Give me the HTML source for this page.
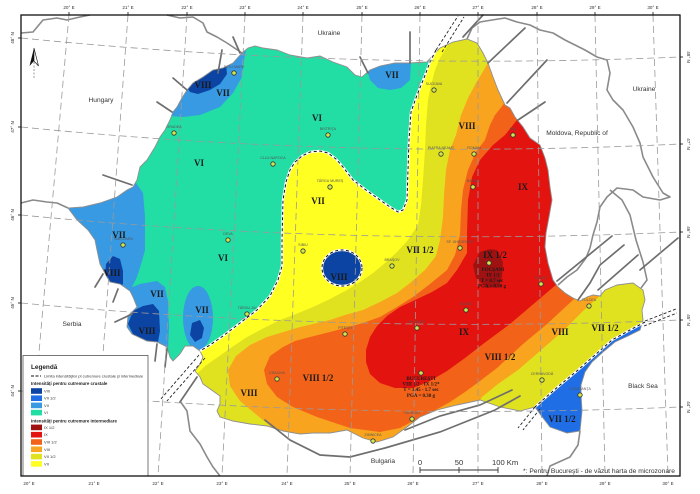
<!DOCTYPE html>
<html><head><meta charset="utf-8"><style>
html,body{margin:0;padding:0;background:#fff;}
svg{display:block;}
.rn{font-family:"Liberation Serif",serif;font-weight:bold;font-size:9px;fill:#1a1a1a;text-anchor:middle;}
.ct{font-family:"Liberation Sans",sans-serif;font-size:3.6px;fill:#555;text-anchor:middle;}
.cn{font-family:"Liberation Sans",sans-serif;font-size:6.6px;fill:#333;text-anchor:middle;}
.ax{font-family:"Liberation Sans",sans-serif;font-size:4.6px;fill:#333;text-anchor:middle;}
.lg{font-family:"Liberation Sans",sans-serif;font-size:4px;fill:#333;}
.lgb{font-family:"Liberation Sans",sans-serif;font-size:4.4px;font-weight:bold;fill:#222;}
.an{font-family:"Liberation Serif",serif;font-weight:bold;font-size:5px;fill:#1a1a1a;text-anchor:middle;}
</style></head><body>
<svg width="700" height="494" viewBox="0 0 700 494" xmlns="http://www.w3.org/2000/svg">
<defs>
<clipPath id="ro"><path id="rop" d="M242,53 L248,48 L255,46 L263,48 L277,50 L290,55 L307,58 L320,56 L333,62 L347,67 L355,75 L362,77 L370,70 L380,66 L395,63 L410,63 L427,62 L433,55 L440,48 L453,42 L467,39 L477,43 L483,53 L488,63 L493,77 L498,90 L505,105 L510,108 L515,117 L523,127 L530,138 L540,145 L545,158 L548,170 L550,187 L552,200 L549,217 L546,233 L545,247 L548,263 L553,280 L558,287 L565,293 L573,298 L580,301 L587,297 L593,295 L600,296 L605,290 L617,285 L633,283 L643,290 L645,300 L642,310 L643,320 L640,330 L628,336 L615,342 L603,352 L592,362 L585,372 L581,385 L581,394 L582,411 L580,431 L567,433 L550,427 L540,414 L535,407 L520,411 L500,407 L480,400 L457,405 L437,410 L420,417 L407,427 L393,437 L377,442 L363,438 L347,430 L330,433 L313,433 L300,434 L283,431 L267,426 L250,424 L233,421 L220,417 L217,411 L220,404 L220,396 L213,391 L203,384 L200,377 L195,371 L200,364 L203,357 L200,351 L193,346 L185,346 L180,354 L173,361 L170,357 L167,347 L157,342 L147,341 L132,334 L127,327 L128,316 L137,307 L133,297 L130,291 L120,284 L110,282 L107,277 L100,264 L97,250 L95,240 L88,230 L77,220 L68,208 L83,207 L100,203 L117,197 L127,190 L133,187 L137,180 L140,167 L147,160 L155,147 L160,137 L165,130 L170,120 L173,112 L177,107 L182,98 L187,90 L193,83 L203,77 L213,70 L223,68 L233,63 Z"/></clipPath>
</defs>

<!-- Map content clipped to Romania -->
<g clip-path="url(#ro)">
  <rect x="0" y="0" width="700" height="494" fill="#FFFF22"/>
  <!-- teal VI crustal -->
  <path fill="#22DDA4" d="M0,0 L450,0 L436,50 L430,62 L424,78 L417,95 L411,112 L409,140 L408,170 L407,200 L403,210 L398,212 L390,207 L380,200 L366,190 L353,180 L343,167 L336,159 L328,153 L320,151 L310,152 L302,156 L295,162 L290,170 L286,182 L283,200 L282,240 L282,266 L278,280 L270,296 L257,310 L240,323 L223,336 L210,345 L200,351 L192,358 L160,400 L0,400 Z"/>
  <!-- olive VII 1/2 -->
  <path fill="#E1E21F" d="M472,0 L458,30 L448,45 L440,58 L435,70 L431,85 L428,100 L426,125 L425,150 L423,180 L421,205 L418,225 L408,240 L397,252 L385,263 L373,273 L360,282 L347,290 L330,299 L313,307 L296,314 L280,320 L262,329 L247,337 L232,347 L218,357 L205,366 L196,375 L190,430 L190,500 L700,500 L700,0 Z"/>
  <!-- orange VIII -->
  <path fill="#F8A41F" d="M512,0 L492,55 L485,68 L476,83 L468,98 L461,115 L456,135 L450,150 L446,170 L444,195 L443,217 L440,240 L436,256 L425,270 L410,283 L397,293 L380,302 L363,310 L345,315 L330,320 L300,327 L267,337 L250,345 L236,356 L228,370 L230,386 L240,401 L258,416 L275,430 L300,455 L420,455 L470,415 L482,397 L498,384 L518,370 L540,351 L563,331 L583,311 L603,293 L625,268 L700,200 L700,0 Z"/>
  <!-- orange-red VIII 1/2 -->
  <path fill="#F36219" d="M540,0 L520,80 L508,97 L503,105 L495,115 L490,125 L485,140 L476,152 L468,170 L463,190 L461,210 L460,235 L455,255 L447,270 L430,284 L413,297 L397,307 L380,317 L363,323 L345,328 L330,332 L310,337 L295,341 L283,347 L270,356 L264,370 L267,384 L277,397 L293,407 L317,417 L335,423 L350,428 L380,432 L400,428 L413,421 L430,413 L450,402 L465,392 L480,381 L497,368 L523,344 L547,324 L573,300 L590,285 L620,260 L700,200 L700,0 Z"/>
  <!-- red IX -->
  <path fill="#E31310" d="M560,0 L530,105 L517,120 L505,135 L493,145 L480,160 L472,177 L468,200 L467,233 L467,253 L457,270 L447,283 L432,292 L415,300 L400,307 L387,316 L377,326 L370,337 L366,350 L366,362 L370,374 L380,383 L395,388 L413,388 L430,381 L447,371 L465,358 L483,344 L510,324 L537,301 L557,284 L570,272 L700,200 L700,0 Z"/>
  <!-- dark red IX 1/2 -->
  <path fill="#A01212" d="M480,252 L490,249 L497,250 L503,262 L502,277 L499,287 L487,288 L476,278 L473,265 Z"/>

  <!-- crustal blue regions -->
  <path fill="#379AE3" d="M160,30 L250,30 L244,60 L242,77 L233,93 L220,107 L200,115 L183,117 L170,116 L150,100 Z"/>
  <path fill="#0C44A4" d="M186,86 L193,78 L203,72 L215,67 L226,64 L227,74 L220,84 L210,90 L198,94 L190,92 Z"/>
  <path fill="#379AE3" d="M362,40 L415,40 L411,62 L410,80 L401,88 L390,90 L378,88 L370,80 L366,66 Z"/>
  <path fill="#379AE3" d="M50,175 L134,180 L143,193 L145,217 L145,250 L142,261 L137,277 L130,291 L110,300 L50,300 Z"/>
  <path fill="#0C44A4" d="M113,256 L120,259 L123,271 L123,284 L118,289 L110,286 L105,277 L106,264 Z"/>
  <path fill="#379AE3" d="M125,290 L140,284 L157,281 L165,287 L168,301 L169,327 L168,350 L150,355 L115,345 L115,300 Z"/>
  <path fill="#0C44A4" d="M128,324 L133,311 L143,306 L153,304 L159,311 L160,331 L158,342 L150,346 L140,343 L133,334 Z"/>
  <ellipse cx="198" cy="318" rx="15" ry="32" fill="#379AE3"/>
  <path fill="#0C44A4" d="M192,323 L200,320 L204,328 L202,338 L195,342 L190,335 Z"/>
  <ellipse cx="342" cy="268" rx="20" ry="18" fill="#0C44A4"/>
  <path fill="#1F6EE6" d="M645,322 L630,330 L612,340 L595,355 L578,370 L560,385 L545,398 L535,407 L520,440 L700,440 L700,300 Z"/>
</g>

<!-- Romania outline -->
<use href="#rop" fill="none" stroke="#8f8f8f" stroke-width="0.9"/>

<!-- crustal/intermediate dashed boundary -->
<g fill="none" stroke-linejoin="round">
  <path stroke="#fff" stroke-width="2.4" d="M436,50 L430,62 L424,78 L417,95 L411,112 L409,140 L408,170 L407,200 L403,210 L398,212 L390,207 L380,200 L366,190 L353,180 L343,167 L336,159 L328,153 L320,151 L310,152 L302,156 L295,162 L290,170 L286,182 L283,200 L282,240 L282,266 L278,280 L270,296 L257,310 L240,323 L223,336 L210,345 L200,351"/>
  <path stroke="#111" stroke-width="1" stroke-dasharray="3,2.5" d="M436,50 L430,62 L424,78 L417,95 L411,112 L409,140 L408,170 L407,200 L403,210 L398,212 L390,207 L380,200 L366,190 L353,180 L343,167 L336,159 L328,153 L320,151 L310,152 L302,156 L295,162 L290,170 L286,182 L283,200 L282,240 L282,266 L278,280 L270,296 L257,310 L240,323 L223,336 L210,345 L200,351"/>
  <ellipse cx="342" cy="268" rx="20" ry="18" stroke="#fff" stroke-width="2.2"/>
  <ellipse cx="342" cy="268" rx="20" ry="18" stroke="#111" stroke-width="1" stroke-dasharray="3,2.5"/>
  <path stroke="#fff" stroke-width="2.4" d="M645,322 L630,330 L612,340 L595,355 L578,370 L560,385 L545,398 L535,407"/>
  <path stroke="#111" stroke-width="1" stroke-dasharray="3,2.5" d="M645,322 L630,330 L612,340 L595,355 L578,370 L560,385 L545,398 L535,407"/>
  <g stroke="#222" stroke-width="0.9" stroke-dasharray="3,2">
    <path d="M436,50 L458,16"/><path d="M442,52 L464,17"/>
    <path d="M199,355 L160,400"/><path d="M205,358 L167,401"/>
    <path d="M645,321 L676,309"/><path d="M644,326 L677,313"/>
    <path d="M535,407 L518,428"/><path d="M540,409 L523,430"/>
  </g>
</g>

<!-- country borders -->
<g fill="none" stroke="#8a8a8a" stroke-width="1.6" stroke-linejoin="round">
  <path d="M21,33 L33,32 L43,20 L57,18 L67,20 L80,17 L90,15"/>
  <path d="M167,15 L180,18 L193,17 L203,23 L207,32 L217,37 L227,43 L233,47 L242,53"/>
  <path d="M21,203 L33,200 L47,202 L57,203 L68,208"/>
  <path d="M180,401 L187,411 L190,431 L200,444 L207,457 L213,467 L220,476"/>
  <path d="M467,39 L472,28 L480,22 L492,20 L505,18 L517,22 L530,25 L540,30 L553,33 L565,40 L575,45 L585,50 L597,57 L607,60 L610,73 L607,90 L613,100 L623,110 L633,127 L640,143 L643,157 L653,177 L663,193 L670,197 L660,200 L643,197 L633,190 L617,188 L607,197 L600,207 L597,222 L593,235 L590,248 L586,258 L577,270 L567,277 L558,285"/>
  <path d="M610,190 L622,200 L630,215 L636,240 L643,262 L647,280 L641,288"/>
  <path d="M580,431 L578,445 L570,457 L550,466 L547,476"/>
</g>

<!-- fault lines -->
<g fill="none" stroke="#6e6e6e" stroke-width="1.7" stroke-linecap="round">
  <path d="M103,175 L132,185"/><path d="M157,102 L172,112"/><path d="M173,78 L187,90"/>
  <path d="M222,50 L218,73"/><path d="M233,37 L240,53"/>
  <path d="M360,57 L368,73"/><path d="M410,32 L410,63"/>
  <path d="M463,37 L483,15"/><path d="M488,63 L525,28"/><path d="M507,103 L547,60"/><path d="M518,120 L545,102"/>
  <path d="M557,281 L612,236"/><path d="M578,300 L590,283 L600,265 L624,245"/><path d="M598,290 L638,255"/><path d="M640,270 L678,238"/>
  <path d="M103,274 L95,287"/><path d="M118,289 L113,302"/><path d="M132,314 L115,322"/>
  <path d="M157,344 L155,361"/><path d="M167,349 L165,367"/><path d="M197,377 L180,402"/>
  <path d="M265,420 L290,440 L320,455 L350,457 L385,448 L440,432 L495,410 L520,396"/>
  <path d="M405,430 L440,416 L480,405 L512,390"/>
</g>

<!-- graticule -->
<g fill="none" stroke="#9a9a9a" stroke-width="0.8" stroke-dasharray="7,4">
  <path d="M69,15 L28,476"/><path d="M128,15 L94,476"/><path d="M187,15 L158,476"/>
  <path d="M245,15 L222,476"/><path d="M303,15 L287,476"/><path d="M362,15 L350,476"/>
  <path d="M420,15 L413,476"/><path d="M478,15 L478,476"/><path d="M537,15 L542,476"/>
  <path d="M595,15 L605,476"/><path d="M653,15 L668,476"/>
  <path d="M21,38 Q350.5,71 680,57"/><path d="M21,127 Q350.5,160 680,144"/>
  <path d="M21,215 Q350.5,247 680,232"/><path d="M21,303 Q350.5,334 680,320"/>
  <path d="M21,391 Q350.5,421 680,407"/>
</g>

<!-- cities -->
<g fill="#CFE84F" stroke="#333" stroke-width="0.8">
  <circle cx="234" cy="73" r="2.2"/><circle cx="174" cy="133" r="2.2"/><circle cx="328" cy="135" r="2.2"/>
  <circle cx="273" cy="164" r="2.2"/><circle cx="330" cy="187" r="2.2"/><circle cx="228" cy="240" r="2.2"/>
  <circle cx="123" cy="245" r="2.2"/><circle cx="303" cy="251" r="2.2"/><circle cx="392" cy="266" r="2.2"/>
  <circle cx="247" cy="314" r="2.2"/><circle cx="345" cy="334" r="2.2"/><circle cx="277" cy="379" r="2.2"/>
  <circle cx="434" cy="90" r="2.2"/><circle cx="441" cy="154" r="2.2"/><circle cx="513" cy="135" r="2.2"/>
  <circle cx="474" cy="154" r="2.2"/><circle cx="473" cy="187" r="2.2"/><circle cx="460" cy="248" r="2.2"/>
  <circle cx="489" cy="263" r="2.2"/><circle cx="466" cy="310" r="2.2"/><circle cx="541" cy="284" r="2.2"/>
  <circle cx="589" cy="306" r="2.2"/><circle cx="417" cy="328" r="2.2"/><circle cx="421" cy="373" r="2.2"/>
  <circle cx="412" cy="419" r="2.2"/><circle cx="373" cy="441" r="2.2"/><circle cx="542" cy="380" r="2.2"/>
  <circle cx="580" cy="395" r="2.2"/>
</g>
<g class="ct">
  <text x="234" y="68">SATU MARE</text><text x="174" y="128">ORADEA</text><text x="328" y="130">BISTRIŢA</text>
  <text x="273" y="159">CLUJ-NAPOCA</text><text x="330" y="182">TÂRGU MUREŞ</text><text x="228" y="235">DEVA</text>
  <text x="123" y="240">TIMIŞOARA</text><text x="303" y="246">SIBIU</text><text x="392" y="261">BRAŞOV</text>
  <text x="247" y="309">TÂRGU JIU</text><text x="345" y="329">PITEŞTI</text><text x="277" y="374">CRAIOVA</text>
  <text x="434" y="85">SUCEAVA</text><text x="441" y="149">PIATRA NEAMŢ</text><text x="513" y="130">IAŞI</text>
  <text x="474" y="149">ROMAN</text><text x="473" y="182">BACĂU</text><text x="460" y="243">SF. GHEORGHE</text>
  <text x="466" y="305">BUZĂU</text><text x="541" y="279">GALAŢI</text><text x="589" y="301">TULCEA</text>
  <text x="417" y="323">PLOIEŞTI</text><text x="412" y="414">GIURGIU</text><text x="373" y="436">ZIMNICEA</text>
  <text x="542" y="375">CERNAVODĂ</text><text x="580" y="390">CONSTANŢA</text>
</g>

<!-- intensity labels -->
<g class="rn">
  <text x="203" y="88">VIII</text><text x="223" y="96">VII</text>
  <text x="317" y="121">VI</text><text x="199" y="166">VI</text>
  <text x="392" y="78">VII</text><text x="318" y="204">VII</text>
  <text x="467" y="129">VIII</text><text x="523" y="190">IX</text>
  <text x="119" y="238">VII</text><text x="223" y="261">VI</text>
  <text x="420" y="253">VII 1/2</text><text x="495" y="258">IX 1/2</text>
  <text x="112" y="276">VIII</text><text x="339" y="280">VIII</text>
  <text x="157" y="297">VII</text><text x="202" y="313">VII</text>
  <text x="147" y="334">VIII</text><text x="464" y="335">IX</text>
  <text x="560" y="335">VIII</text><text x="605" y="331">VII 1/2</text>
  <text x="500" y="360">VIII 1/2</text><text x="318" y="381">VIII 1/2</text>
  <text x="249" y="396">VIII</text><text x="562" y="422">VII 1/2</text>
</g>
<g class="an">
  <text x="493" y="271">FOCŞANI</text><text x="493" y="276.5">IX 1/2</text>
  <text x="492" y="282">T = 0.7 sec</text><text x="492" y="287.5">PGA = 0.30 g</text>
  <text x="421" y="380">BUCUREŞTI</text><text x="421" y="385.5">VIII 1/2 - IX 1/2*</text>
  <text x="421" y="391">T = 1.45 - 1.7 sec</text><text x="421" y="397">PGA = 0.30 g</text>
</g>

<!-- country names -->
<g class="cn">
  <text x="329" y="35">Ukraine</text><text x="101" y="102">Hungary</text><text x="72" y="326">Serbia</text>
  <text x="383" y="463">Bulgaria</text><text x="643" y="388">Black Sea</text><text x="644" y="91">Ukraine</text>
  <text x="577" y="135">Moldova, Republic of</text>
</g>

<!-- north arrow -->
<polygon points="34,48 29.5,66 34,61" fill="#111"/>
<polygon points="34,48 38.5,66 34,61" fill="#fff" stroke="#111" stroke-width="0.6"/>
<line x1="34" y1="62" x2="34" y2="78" stroke="#888" stroke-width="0.8" stroke-dasharray="2,1.5"/>

<!-- scale bar -->
<g stroke="#333" stroke-width="0.9">
  <line x1="420" y1="470" x2="498" y2="470"/>
  <line x1="420" y1="467" x2="420" y2="473"/><line x1="459" y1="467" x2="459" y2="473"/><line x1="498" y1="467" x2="498" y2="473"/>
</g>
<g font-family="Liberation Sans, sans-serif" font-size="7.6px" fill="#333">
  <text x="420" y="465" text-anchor="middle">0</text>
  <text x="459" y="465" text-anchor="middle">50</text>
  <text x="492" y="465">100 Km</text>
</g>
<text x="523" y="473" font-family="Liberation Sans, sans-serif" font-size="6.4px" fill="#333" textLength="152" lengthAdjust="spacingAndGlyphs">*: Pentru Bucureşti - de văzut harta de microzonare</text>

<!-- legend -->
<rect x="23" y="355.5" width="125" height="120.5" fill="#fff" stroke="#555" stroke-width="0.8"/>
<text x="31" y="369" font-family="Liberation Sans, sans-serif" font-size="6.4px" font-weight="bold" fill="#222">Legendă</text>
<line x1="31" y1="376" x2="41" y2="376" stroke="#111" stroke-width="1" stroke-dasharray="3,1.5"/>
<text class="lg" x="44" y="377.4">Limita intensităţilor pt cutremure crustale şi intermediare</text>
<text class="lgb" x="31" y="385">Intensităţi pentru cutremure crustale</text>
<rect x="31" y="388.2" width="11" height="5.6" fill="#0C44A4"/><text class="lg" x="44" y="392.5">VIII</text>
<rect x="31" y="395.4" width="11" height="5.6" fill="#1F6EE6"/><text class="lg" x="44" y="399.7">VII 1/2</text>
<rect x="31" y="402.6" width="11" height="5.6" fill="#379AE3"/><text class="lg" x="44" y="406.9">VII</text>
<rect x="31" y="409.8" width="11" height="5.6" fill="#22DDA4"/><text class="lg" x="44" y="414.1">VI</text>
<text class="lgb" x="31" y="422.5">Intensităţi pentru cutremure intermediare</text>
<rect x="31" y="424.6" width="11" height="5.6" fill="#A01212"/><text class="lg" x="44" y="428.9">IX 1/2</text>
<rect x="31" y="431.9" width="11" height="5.6" fill="#E31310"/><text class="lg" x="44" y="436.2">IX</text>
<rect x="31" y="439.2" width="11" height="5.6" fill="#F36219"/><text class="lg" x="44" y="443.5">VIII 1/2</text>
<rect x="31" y="446.5" width="11" height="5.6" fill="#F8A41F"/><text class="lg" x="44" y="450.8">VIII</text>
<rect x="31" y="453.8" width="11" height="5.6" fill="#E1E21F"/><text class="lg" x="44" y="458.1">VII 1/2</text>
<rect x="31" y="461.1" width="11" height="5.6" fill="#FFFF22"/><text class="lg" x="44" y="465.4">VII</text>

<!-- frame -->
<rect x="21" y="15" width="659" height="461" fill="none" stroke="#111" stroke-width="1.3"/>

<!-- axis labels -->
<g class="ax">
  <text x="69" y="9">20° E</text><text x="128" y="9">21° E</text><text x="187" y="9">22° E</text>
  <text x="245" y="9">23° E</text><text x="303" y="9">24° E</text><text x="362" y="9">25° E</text>
  <text x="420" y="9">26° E</text><text x="478" y="9">27° E</text><text x="537" y="9">28° E</text>
  <text x="595" y="9">29° E</text><text x="653" y="9">30° E</text>
  <text x="29" y="485">20° E</text><text x="94" y="485">21° E</text><text x="158" y="485">22° E</text>
  <text x="222" y="485">23° E</text><text x="287" y="485">24° E</text><text x="350" y="485">25° E</text>
  <text x="413" y="485">26° E</text><text x="478" y="485">27° E</text><text x="542" y="485">28° E</text>
  <text x="605" y="485">29° E</text><text x="668" y="485">30° E</text>
  <text transform="translate(14,38) rotate(-90)">48° N</text>
  <text transform="translate(14,127) rotate(-90)">47° N</text>
  <text transform="translate(14,215) rotate(-90)">46° N</text>
  <text transform="translate(14,303) rotate(-90)">45° N</text>
  <text transform="translate(14,391) rotate(-90)">44° N</text>
  <text transform="translate(687,57) rotate(90)">48° N</text>
  <text transform="translate(687,144) rotate(90)">47° N</text>
  <text transform="translate(687,232) rotate(90)">46° N</text>
  <text transform="translate(687,320) rotate(90)">45° N</text>
  <text transform="translate(687,407) rotate(90)">44° N</text>
</g>
<g stroke="#111" stroke-width="0.8">
  <line x1="69" y1="12" x2="69" y2="15"/><line x1="128" y1="12" x2="128" y2="15"/><line x1="187" y1="12" x2="187" y2="15"/>
  <line x1="245" y1="12" x2="245" y2="15"/><line x1="303" y1="12" x2="303" y2="15"/><line x1="362" y1="12" x2="362" y2="15"/>
  <line x1="420" y1="12" x2="420" y2="15"/><line x1="478" y1="12" x2="478" y2="15"/><line x1="537" y1="12" x2="537" y2="15"/>
  <line x1="595" y1="12" x2="595" y2="15"/><line x1="653" y1="12" x2="653" y2="15"/>
  <line x1="18" y1="38" x2="21" y2="38"/><line x1="18" y1="127" x2="21" y2="127"/><line x1="18" y1="215" x2="21" y2="215"/>
  <line x1="18" y1="303" x2="21" y2="303"/><line x1="18" y1="391" x2="21" y2="391"/>
  <line x1="680" y1="57" x2="683" y2="57"/><line x1="680" y1="144" x2="683" y2="144"/><line x1="680" y1="232" x2="683" y2="232"/>
  <line x1="680" y1="320" x2="683" y2="320"/><line x1="680" y1="407" x2="683" y2="407"/>
</g>
</svg>
</body></html>
